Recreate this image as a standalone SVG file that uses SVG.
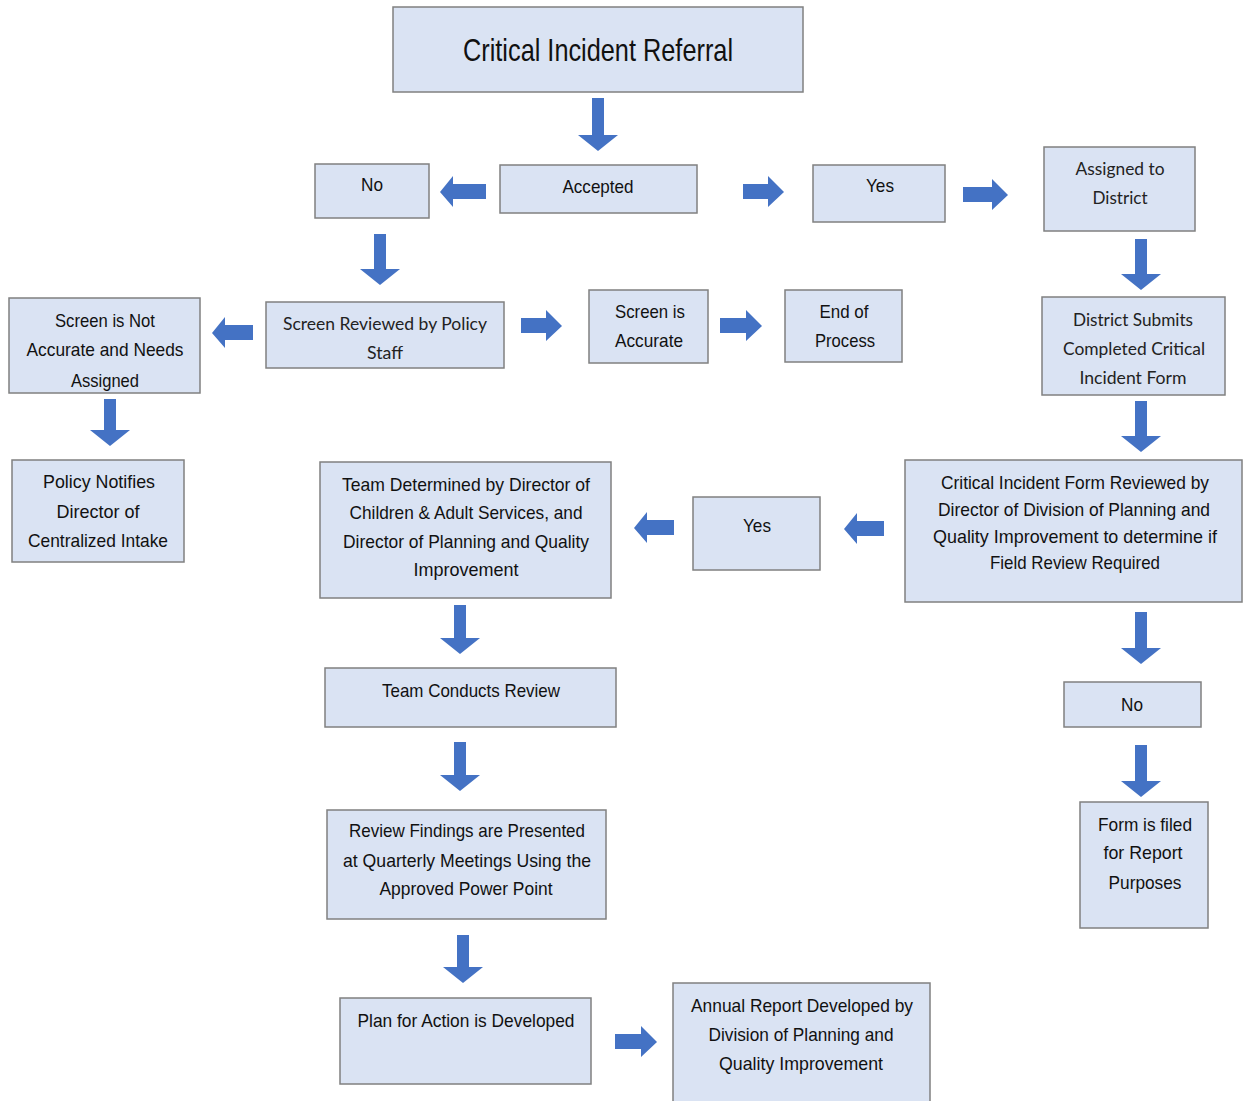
<svg xmlns="http://www.w3.org/2000/svg" width="1243" height="1101" viewBox="0 0 1243 1101">
<defs>
<style>
.box{fill:#dae3f3;stroke:#808080;stroke-width:1.5}
.t{font-family:"Liberation Sans",Arial,sans-serif;font-size:19px;fill:#111;text-anchor:middle}
.title{font-size:32px}
.c{font-family:Lato,"Open Sans",sans-serif;font-size:18px;fill:#222;text-anchor:middle}
.arr{fill:#4472c4}
</style>
<clipPath id="clipNA"><rect x="9" y="298" width="191" height="94"/></clipPath>
</defs>
<rect width="1243" height="1101" fill="#ffffff"/>
<g id="connectors">
<path class="arr" d="M592 98h12v37h14l-20 16l-20-16h14z"/>
<path class="arr" d="M486 184v15h-33v8l-13-15l13-16v8z"/>
<path class="arr" d="M743 184v15h25v8l16-15l-16-16v8z"/>
<path class="arr" d="M963 187v15h29v8l16-15l-16-16v8z"/>
<path class="arr" d="M374 234h12v35h14l-20 16l-20-16h14z"/>
<path class="arr" d="M1135 239h12v35h14l-20 16l-20-16h14z"/>
<path class="arr" d="M253 325v15h-28v8l-13-15l13-16v8z"/>
<path class="arr" d="M521 318v15h25v8l16-15l-16-16v8z"/>
<path class="arr" d="M720 318v15h26v8l16-15l-16-16v8z"/>
<path class="arr" d="M104 399h12v31h14l-20 16l-20-16h14z"/>
<path class="arr" d="M1135 401h12v35h14l-20 16l-20-16h14z"/>
<path class="arr" d="M884 521v15h-27v8l-13-15l13-16v8z"/>
<path class="arr" d="M674 520v15h-27v8l-13-15l13-16v8z"/>
<path class="arr" d="M454 605h12v33h14l-20 16l-20-16h14z"/>
<path class="arr" d="M1135 612h12v36h14l-20 16l-20-16h14z"/>
<path class="arr" d="M454 742h12v33h14l-20 16l-20-16h14z"/>
<path class="arr" d="M1135 745h12v36h14l-20 16l-20-16h14z"/>
<path class="arr" d="M457 935h12v32h14l-20 16l-20-16h14z"/>
<path class="arr" d="M615 1034v15h26v8l16-15l-16-16v8z"/>
</g>
<g id="n-referral"><rect class="box" x="393" y="7" width="410" height="85"/><text class="t title" x="598" y="61" textLength="270" lengthAdjust="spacingAndGlyphs">Critical Incident Referral</text></g>
<g id="n-accepted"><rect class="box" x="500" y="165" width="197" height="48"/><text class="t" x="598" y="193" textLength="71" lengthAdjust="spacingAndGlyphs">Accepted</text></g>
<g id="n-no1"><rect class="box" x="315" y="164" width="114" height="54"/><text class="t" x="372" y="191" textLength="22" lengthAdjust="spacingAndGlyphs">No</text></g>
<g id="n-yes1"><rect class="box" x="813" y="165" width="132" height="57"/><text class="t" x="880" y="192" textLength="28" lengthAdjust="spacingAndGlyphs">Yes</text></g>
<g id="n-assigned"><rect class="box" x="1044" y="147" width="151" height="84"/><text class="c" x="1120" y="175" textLength="89" lengthAdjust="spacingAndGlyphs">Assigned to</text><text class="c" x="1120" y="204" textLength="55" lengthAdjust="spacingAndGlyphs">District</text></g>
<g id="n-screenreviewed"><rect class="box" x="266" y="302" width="238" height="66"/><text class="c" x="385" y="330" textLength="204" lengthAdjust="spacingAndGlyphs">Screen Reviewed by Policy</text><text class="c" x="385" y="359" textLength="36" lengthAdjust="spacingAndGlyphs">Staff</text></g>
<g id="n-accurate"><rect class="box" x="589" y="290" width="119" height="73"/><text class="t" x="650" y="318" textLength="70" lengthAdjust="spacingAndGlyphs">Screen is</text><text class="t" x="649" y="347" textLength="68" lengthAdjust="spacingAndGlyphs">Accurate</text></g>
<g id="n-end"><rect class="box" x="785" y="290" width="117" height="72"/><text class="t" x="844" y="318" textLength="49" lengthAdjust="spacingAndGlyphs">End of</text><text class="t" x="845" y="347" textLength="60" lengthAdjust="spacingAndGlyphs">Process</text></g>
<g id="n-notaccurate"><rect class="box" x="9" y="298" width="191" height="95"/><g clip-path="url(#clipNA)"><text class="t" x="105" y="327" textLength="100" lengthAdjust="spacingAndGlyphs">Screen is Not</text><text class="t" x="105" y="356" textLength="157" lengthAdjust="spacingAndGlyphs">Accurate and Needs</text><text class="t" x="105" y="387" textLength="68" lengthAdjust="spacingAndGlyphs">Assigned</text></g></g>
<g id="n-policynotifies"><rect class="box" x="12" y="460" width="172" height="102"/><text class="t" x="99" y="488" textLength="112" lengthAdjust="spacingAndGlyphs">Policy Notifies</text><text class="t" x="98" y="518" textLength="83" lengthAdjust="spacingAndGlyphs">Director of</text><text class="t" x="98" y="547" textLength="140" lengthAdjust="spacingAndGlyphs">Centralized Intake</text></g>
<g id="n-districtsubmits"><rect class="box" x="1042" y="297" width="183" height="98"/><text class="c" x="1133" y="326" textLength="120" lengthAdjust="spacingAndGlyphs">District Submits</text><text class="c" x="1134" y="355" textLength="142" lengthAdjust="spacingAndGlyphs">Completed Critical</text><text class="c" x="1133" y="384" textLength="107" lengthAdjust="spacingAndGlyphs">Incident Form</text></g>
<g id="n-formreviewed"><rect class="box" x="905" y="460" width="337" height="142"/><text class="t" x="1075" y="489" textLength="268" lengthAdjust="spacingAndGlyphs">Critical Incident Form Reviewed by</text><text class="t" x="1074" y="516" textLength="272" lengthAdjust="spacingAndGlyphs">Director of Division of Planning and</text><text class="t" x="1075" y="543" textLength="284" lengthAdjust="spacingAndGlyphs">Quality Improvement to determine if</text><text class="t" x="1075" y="569" textLength="170" lengthAdjust="spacingAndGlyphs">Field Review Required</text></g>
<g id="n-yes2"><rect class="box" x="693" y="497" width="127" height="73"/><text class="t" x="757" y="532" textLength="28" lengthAdjust="spacingAndGlyphs">Yes</text></g>
<g id="n-teamdetermined"><rect class="box" x="320" y="462" width="291" height="136"/><text class="t" x="466" y="491" textLength="248" lengthAdjust="spacingAndGlyphs">Team Determined by Director of</text><text class="t" x="466" y="519" textLength="233" lengthAdjust="spacingAndGlyphs">Children &amp; Adult Services, and</text><text class="t" x="466" y="548" textLength="246" lengthAdjust="spacingAndGlyphs">Director of Planning and Quality</text><text class="t" x="466" y="576" textLength="105" lengthAdjust="spacingAndGlyphs">Improvement</text></g>
<g id="n-teamconducts"><rect class="box" x="325" y="668" width="291" height="59"/><text class="t" x="471" y="697" textLength="178" lengthAdjust="spacingAndGlyphs">Team Conducts Review</text></g>
<g id="n-no2"><rect class="box" x="1064" y="682" width="137" height="45"/><text class="t" x="1132" y="711" textLength="22" lengthAdjust="spacingAndGlyphs">No</text></g>
<g id="n-formfiled"><rect class="box" x="1080" y="802" width="128" height="126"/><text class="t" x="1145" y="831" textLength="94" lengthAdjust="spacingAndGlyphs">Form is filed</text><text class="t" x="1143" y="859" textLength="79" lengthAdjust="spacingAndGlyphs">for Report</text><text class="t" x="1145" y="889" textLength="73" lengthAdjust="spacingAndGlyphs">Purposes</text></g>
<g id="n-findings"><rect class="box" x="327" y="810" width="279" height="109"/><text class="t" x="467" y="837" textLength="236" lengthAdjust="spacingAndGlyphs">Review Findings are Presented</text><text class="t" x="467" y="867" textLength="248" lengthAdjust="spacingAndGlyphs">at Quarterly Meetings Using the</text><text class="t" x="466" y="895" textLength="173" lengthAdjust="spacingAndGlyphs">Approved Power Point</text></g>
<g id="n-plan"><rect class="box" x="340" y="998" width="251" height="86"/><text class="t" x="466" y="1027" textLength="217" lengthAdjust="spacingAndGlyphs">Plan for Action is Developed</text></g>
<g id="n-annual"><rect class="box" x="673" y="983" width="257" height="125"/><text class="t" x="802" y="1012" textLength="222" lengthAdjust="spacingAndGlyphs">Annual Report Developed by</text><text class="t" x="801" y="1041" textLength="185" lengthAdjust="spacingAndGlyphs">Division of Planning and</text><text class="t" x="801" y="1070" textLength="164" lengthAdjust="spacingAndGlyphs">Quality Improvement</text></g>
</svg>
